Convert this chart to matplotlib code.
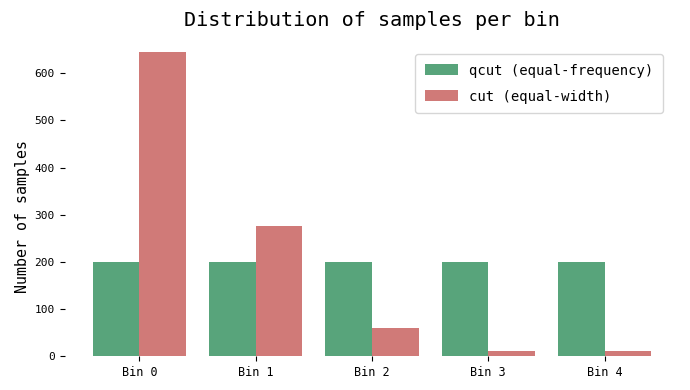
import matplotlib
matplotlib.use("Agg")
import matplotlib.pyplot as plt
import numpy as np

categories = ["Bin 0", "Bin 1", "Bin 2", "Bin 3", "Bin 4"]
qcut_counts = [200, 200, 200, 200, 200]
cut_counts = [645, 276, 59, 10, 10]
series_labels = ["qcut (equal-frequency)", "cut (equal-width)"]

plt.rcParams['font.family'] = ['DejaVu Sans Mono']

fig = plt.figure(figsize=(6.9, 3.9), dpi=100)
ax = fig.add_axes([65/690, 34/390, 614/690, 319/390])

x = np.arange(len(categories))
w = 0.4
ax.bar(x - w/2, qcut_counts, width=w, color="#58A47B", label=series_labels[0])
ax.bar(x + w/2, cut_counts, width=w, color="#D07A78", label=series_labels[1])

ax.set_xlim(-0.64, len(categories) - 1 + 0.64)
ax.set_ylim(0, 677)
ax.set_xticks(x)
ax.set_xticklabels(categories, fontsize=8.5)
ax.set_yticks([0, 100, 200, 300, 400, 500, 600])
ax.tick_params(axis='y', labelsize=8, length=3.5, width=0.8, pad=4)
ax.tick_params(axis='x', length=3.5, width=0.8, pad=4)
for s in ax.spines.values():
    s.set_visible(False)

ax.set_ylabel("Number of samples", fontsize=10.8)
ax.yaxis.set_label_coords(-0.057, 0.436)
ax.set_title("Distribution of samples per bin", fontsize=14.5, pad=8)
leg = ax.legend(loc="upper right", fontsize=10, frameon=True, borderpad=0.7,
                handlelength=2.4, handleheight=0.85, labelspacing=0.85, borderaxespad=0,
                bbox_to_anchor=(663/690, 1 - 54/390), bbox_transform=fig.transFigure)
leg.get_frame().set_edgecolor("#cccccc")

fig.savefig("out.png", dpi=100)
